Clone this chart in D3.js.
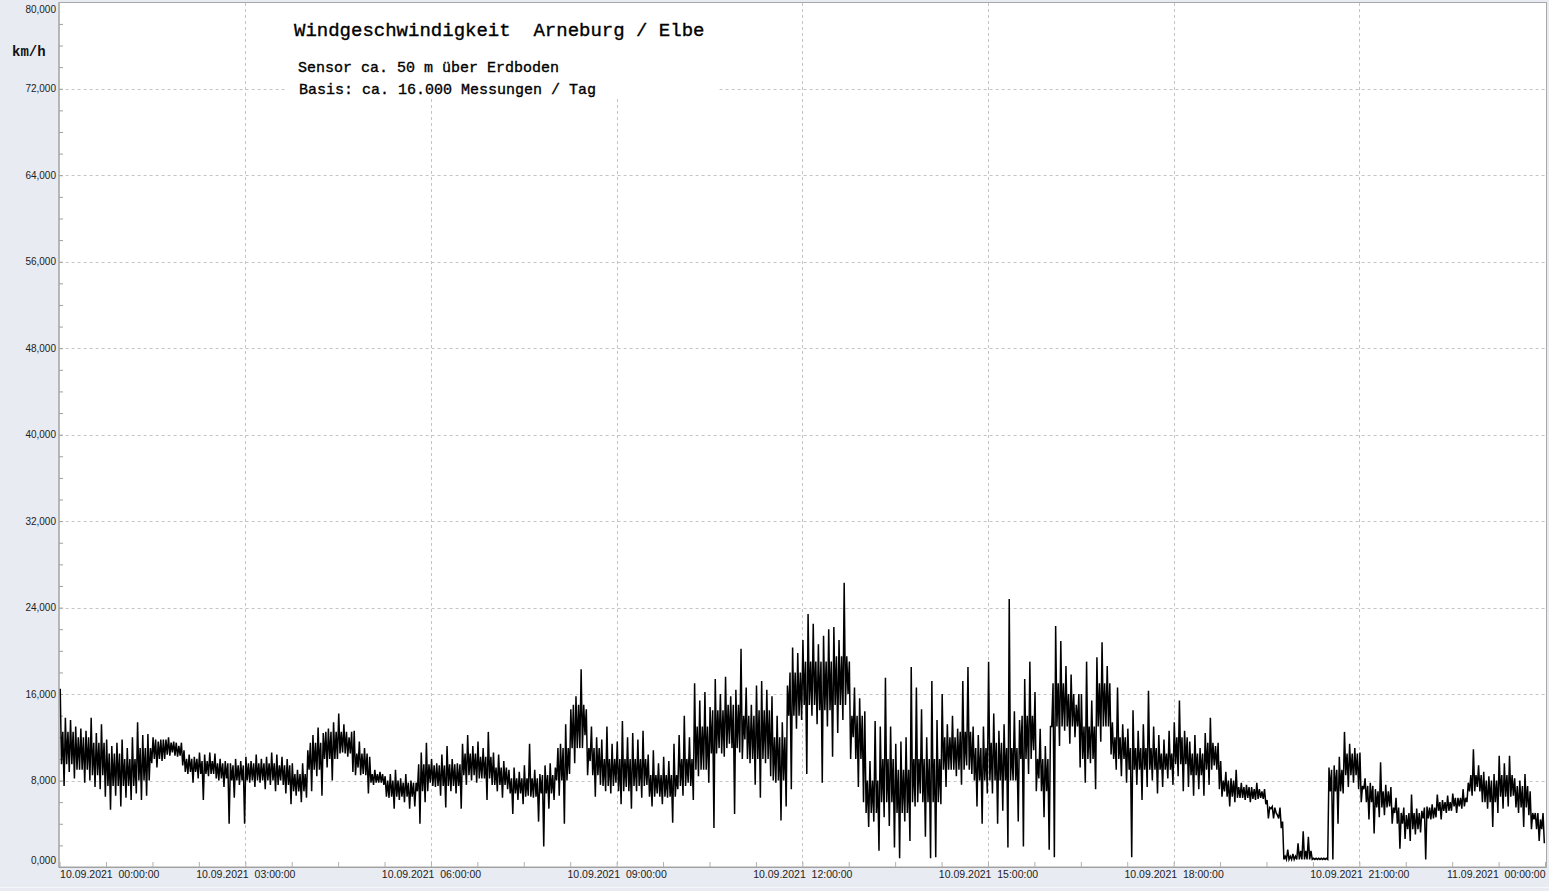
<!DOCTYPE html>
<html><head><meta charset="utf-8">
<script src="https://cdn.jsdelivr.net/npm/d3@7"></script>
<style>
html,body{margin:0;padding:0;background:#e8ebf2;}
svg{display:block;}
</style></head><body>
<svg id="c" width="1549" height="891"></svg>
<script>
// ---- data (km/h) from 10.09.2021 00:00 to 11.09.2021 00:00 ----
// extremes per 5-minute bin
const binMinutes = 5;
const hi = [
16.5,13.8,13.6,13.0,12.8,12.6,13.8,12.4,13.2,11.8,
11.2,11.5,11.8,11.0,12.0,13.4,12.2,12.3,12.0,11.6,
11.8,12.0,11.6,11.2,10.8,10.4,10.2,10.6,10.4,10.6,
10.5,10.0,9.8,9.6,10.0,9.8,
10.2,9.8,10.4,10.0,10.2,10.6,10.4,10.2,10.0,9.6,
9.0,9.6,10.8,12.2,12.9,12.4,12.8,13.4,14.2,13.2,
12.0,12.6,11.6,11.0,10.2,9.0,8.8,8.4,8.6,9.0,
8.2,8.6,8.0,7.8,10.6,11.5,
10.0,9.6,10.4,11.2,10.0,9.6,11.4,12.2,11.2,11.6,
11.0,12.5,10.6,10.4,9.8,9.0,9.2,8.8,9.4,11.4,
9.0,8.6,9.4,9.6,9.2,11.4,13.2,14.6,15.8,18.3,
14.6,13.0,12.0,11.8,13.0,11.4,
11.6,13.5,12.0,12.4,11.8,12.6,10.4,10.8,9.6,10.2,
9.8,11.4,12.2,14.0,12.0,17.0,15.4,16.2,14.8,17.4,
16.0,17.6,15.8,16.4,20.2,16.6,15.0,16.8,17.2,16.4,
15.8,14.0,13.4,16.8,20.3,19.8,
21.0,23.4,22.5,20.6,21.4,22.0,22.2,21.0,26.3,19.0,
16.6,15.6,14.4,9.8,13.5,13.0,17.5,13.0,11.4,11.6,
12.0,18.5,16.6,14.6,12.0,17.2,13.6,16.0,13.2,14.0,
12.8,17.2,18.5,13.0,12.2,13.0,
19.0,14.2,12.6,13.2,24.8,14.4,13.6,17.4,19.0,16.2,
12.8,11.2,13.0,22.3,20.9,18.6,17.8,15.0,16.0,19.0,
15.4,19.4,20.8,18.6,13.4,16.6,13.2,12.8,14.5,12.6,
13.2,16.3,13.0,12.2,11.8,12.6,
13.4,15.4,12.6,11.6,12.2,11.0,12.4,13.8,11.2,9.8,
8.8,8.2,9.0,7.8,7.6,7.4,7.8,7.0,6.2,5.6,
4.8,4.2,1.6,1.2,2.2,3.3,2.8,0.8,0.8,0.8,
9.2,9.4,10.2,12.5,11.4,11.0,
10.6,8.2,7.8,7.2,9.7,7.6,7.4,6.4,5.0,4.8,
6.7,5.4,5.2,5.6,5.8,6.7,6.2,6.6,6.8,6.4,
7.2,7.8,10.9,9.4,8.8,8.4,8.6,10.3,9.6,10.3,
8.2,8.0,8.6,7.0,5.0,4.4
];
const lo = [
7.5,8.8,8.2,9.0,7.8,8.0,7.4,7.2,6.5,5.3,
6.6,5.6,6.4,6.2,6.8,6.2,6.6,9.6,9.2,9.8,
10.4,10.6,10.2,9.4,8.6,7.8,8.2,6.2,8.4,8.6,
8.0,7.4,4.0,6.4,7.6,4.0,
7.8,7.4,7.8,7.2,7.6,7.0,8.0,6.8,5.8,6.6,
6.0,6.4,7.0,8.4,6.6,9.2,8.0,10.0,10.6,10.2,
8.8,9.2,8.6,6.8,7.6,7.8,7.6,6.4,5.4,6.2,
6.0,5.4,5.6,4.0,6.0,7.8,
7.4,6.6,5.5,7.0,6.8,5.4,7.6,8.0,7.8,8.2,
6.2,7.6,7.0,6.4,7.2,4.9,6.2,5.8,6.6,6.4,
4.2,1.9,5.4,6.2,6.6,4.0,8.6,9.6,11.0,12.2,
9.8,6.5,7.6,7.0,6.8,7.8,
5.8,7.4,5.4,7.0,6.4,7.6,5.6,6.8,5.8,6.4,
4.1,7.2,6.6,7.8,6.2,8.4,9.0,7.8,3.6,11.0,
10.2,11.4,4.9,10.6,11.8,9.6,7.6,6.4,9.6,8.4,
7.8,4.3,5.6,7.2,12.8,13.6,
8.6,14.0,13.2,7.8,13.0,10.2,12.4,13.6,16.0,12.0,
7.4,6.0,3.7,4.2,1.5,4.6,3.8,1.8,0.8,4.2,
2.4,5.6,6.8,2.8,0.8,0.9,5.8,7.4,9.0,8.4,
7.6,9.4,8.6,5.6,4.0,6.8,
6.8,4.0,5.2,1.8,8.0,4.2,1.9,8.6,10.8,8.2,
4.6,1.6,0.9,11.2,12.6,11.4,12.0,9.2,7.8,9.6,
7.2,11.6,13.0,10.4,9.0,8.4,7.8,0.9,7.6,6.2,
7.4,8.0,6.8,7.4,8.2,7.6,
8.4,7.0,7.4,6.6,7.2,6.6,7.6,9.4,7.2,7.0,
5.6,6.0,6.4,6.2,6.0,6.2,6.4,5.8,5.4,5.0,
3.6,0.7,0.7,0.7,0.7,0.7,0.7,0.7,0.7,0.7,
0.7,4.0,6.8,7.4,7.8,7.2,
7.2,4.4,3.1,4.6,4.8,5.6,5.0,1.7,2.6,2.4,
3.0,3.2,0.7,4.4,4.6,4.4,5.0,5.2,5.0,5.4,
6.0,6.6,7.4,6.0,5.4,3.7,5.0,5.4,5.6,6.6,
5.0,3.7,4.8,4.4,2.4,2.2
];
// dense core band per 15-minute bin
const coreMinutes = 15;
const coreLo = [
9.5,9.0,8.5,7.5,7.5,8.0,10.0,10.3,8.8,8.6,8.2,8.0,
8.0,8.0,7.6,7.0,9.0,10.0,10.5,8.5,7.8,6.5,6.5,7.0,
7.5,7.5,8.5,8.2,7.6,6.8,6.5,6.8,8.0,11.0,8.5,7.5,
7.0,7.5,6.5,6.5,7.5,9.0,10.5,11.0,10.0,10.0,8.0,14.0,
15.0,14.5,15.0,10.0,5.0,6.0,5.0,6.0,6.0,9.0,9.0,8.0,
8.0,8.0,10.0,7.0,13.0,13.0,10.0,13.0,10.0,9.0,9.0,9.0,
9.5,8.5,9.0,6.5,6.4,6.3,4.5,0.7,0.7,0.7,7.0,8.5,
6.0,5.5,4.0,3.5,4.5,5.2,5.6,7.0,6.0,6.5,5.5,3.5
];
const coreHi = [
12.5,12.0,11.5,10.5,10.0,11.0,11.8,11.5,10.0,9.8,9.6,9.4,
9.6,9.6,9.4,8.6,11.5,12.5,12.5,10.5,8.6,8.0,7.8,9.5,
9.4,9.5,10.5,10.2,9.2,8.2,8.2,8.5,11.0,15.0,11.0,10.0,
10.0,10.0,8.5,8.5,10.0,13.0,14.5,15.0,14.0,14.5,12.0,18.0,
19.0,19.0,19.5,14.0,8.0,10.0,9.0,10.0,10.0,12.0,12.5,11.0,
11.5,11.0,14.0,10.0,17.0,16.0,13.0,17.0,12.0,11.0,11.0,10.5,
12.0,10.5,11.5,8.0,7.4,7.2,5.5,1.0,1.5,0.8,9.0,10.5,
7.5,7.0,5.5,5.0,5.5,6.0,6.4,8.5,8.0,8.5,7.5,5.0
];
const yTicks = [0,8,16,24,32,40,48,56,64,72,80];
const xTickMinutes = [0,180,360,540,720,900,1080,1260,1440];
const xTickLabels = [
"10.09.2021  00:00:00","10.09.2021  03:00:00","10.09.2021  06:00:00",
"10.09.2021  09:00:00","10.09.2021  12:00:00","10.09.2021  15:00:00",
"10.09.2021  18:00:00","10.09.2021  21:00:00","11.09.2021  00:00:00"
];
const titleText = "Windgeschwindigkeit  Arneburg / Elbe";
const subtitle1 = "Sensor ca. 50 m über Erdboden";
const subtitle2 = "Basis: ca. 16.000 Messungen / Tag";
const unitText = "km/h";

// ---- layout ----
const svg = d3.select("#c");
const X0 = 59.6, X1 = 1545, Y0 = 867, Y1 = 2.3;
const x = d3.scaleLinear().domain([0,1440]).range([X0,X1]);
const y = d3.scaleLinear().domain([0,80]).range([Y0,Y1]);

svg.append("rect").attr("width",1549).attr("height",891).attr("fill","#e8ebf2");
svg.append("line").attr("x1",0).attr("x2",1549).attr("y1",887.5).attr("y2",887.5).attr("stroke","#f6f7fa");
svg.append("rect").attr("x",59).attr("y",2.5).attr("width",1546.5-59).attr("height",Y0-2.5)
  .attr("fill","#fff").attr("stroke","#a8a8a8").attr("stroke-width",1);

// grid
const grid = svg.append("g").attr("stroke","#c4c4c4").attr("stroke-dasharray","3,3").attr("stroke-width",1);
grid.selectAll(".h").data(yTicks.filter(d=>d>0&&d<80)).join("line")
  .attr("x1",X0).attr("x2",1546).attr("y1",d=>Math.round(y(d))+0.5).attr("y2",d=>Math.round(y(d))+0.5);
grid.selectAll(".v").data(xTickMinutes.filter(d=>d>0&&d<1440)).join("line")
  .attr("y1",3).attr("y2",Y0).attr("x1",d=>Math.round(x(d))+0.5).attr("x2",d=>Math.round(x(d))+0.5);

// minor ticks
const yMinor = svg.append("g").attr("transform",`translate(59,0)`)
  .call(d3.axisRight(y).tickValues(d3.range(0,80,2)).tickSize(4).tickFormat(""));
yMinor.select(".domain").remove();
yMinor.selectAll("line").attr("stroke","#a0a0a0");
const xMinor = svg.append("g").attr("transform",`translate(0,${Y0})`)
  .call(d3.axisTop(x).tickValues(d3.range(0,1441,45)).tickSize(5).tickFormat(""));
xMinor.select(".domain").remove();
xMinor.selectAll("line").attr("stroke","#b0b0b0");

// title box
svg.append("rect").attr("x",285).attr("y",3).attr("width",433).attr("height",94).attr("fill","#fff");
const mono = "'Liberation Mono','Courier New',monospace";
const tAttrs = s => s.attr("font-family",mono).attr("fill","#000").attr("stroke","#000")
  .attr("stroke-width",0.35).style("white-space","pre");
svg.append("text").attr("x",294).attr("y",36).attr("font-size",19).call(tAttrs).text(titleText);
svg.append("text").attr("x",298).attr("y",72).attr("font-size",15).call(tAttrs).text(subtitle1);
svg.append("text").attr("x",299).attr("y",94).attr("font-size",15).call(tAttrs).text(subtitle2);
svg.append("text").attr("x",12).attr("y",56).attr("font-family",mono).attr("font-size",14)
  .attr("font-weight","bold").attr("fill","#111").text(unitText);

// data line: within each 5-min bin go extreme-high -> core-low -> core-high -> extreme-low
const pts = [];
hi.forEach((h,i)=>{
  const j = Math.floor(i*binMinutes/coreMinutes);
  const t = i*binMinutes;
  pts.push([t+0.6, h]);
  pts.push([t+1.85, coreLo[j]]);
  pts.push([t+3.1, coreHi[j]]);
  pts.push([t+4.35, lo[i]]);
});
svg.append("path").datum(pts)
  .attr("fill","none").attr("stroke","#000").attr("stroke-width",1.5).attr("stroke-linejoin","miter")
  .attr("d", d3.line().x(d=>x(d[0])).y(d=>y(d[1])));

// y axis labels
const fmt = d => d3.format(".3f")(d).replace(".",",");
const yAx = svg.append("g").attr("transform","translate(57,0)")
  .call(d3.axisLeft(y).tickValues(yTicks).tickSize(0).tickPadding(1).tickFormat(fmt));
yAx.select(".domain").remove();
yAx.selectAll("text").attr("font-family","'Liberation Sans',Arial,sans-serif").attr("font-size",10)
  .attr("fill","#222")
  .attr("dy", d => d===80 ? "1.05em" : d===0 ? "-0.35em" : "0.32em");

// x axis labels
const xAx = svg.append("g").attr("transform",`translate(0,${Y0})`)
  .call(d3.axisBottom(x).tickValues(xTickMinutes).tickSize(0).tickPadding(4)
    .tickFormat((d,i)=>xTickLabels[i]));
xAx.select(".domain").remove();
xAx.selectAll("text").attr("font-family","'Liberation Sans',Arial,sans-serif").attr("font-size",10.5)
  .attr("fill","#222").style("white-space","pre")
  .attr("text-anchor",(d,i)=> i===0 ? "start" : i===xTickMinutes.length-1 ? "end" : "middle");
svg.append("line").attr("x1",59).attr("x2",1546.5).attr("y1",Y0+0.5).attr("y2",Y0+0.5).attr("stroke","#a0a0a0");
svg.append("line").attr("x1",59).attr("x2",59).attr("y1",2.5).attr("y2",Y0+0.5).attr("stroke","#a0a0a0");
</script>
</body></html>
